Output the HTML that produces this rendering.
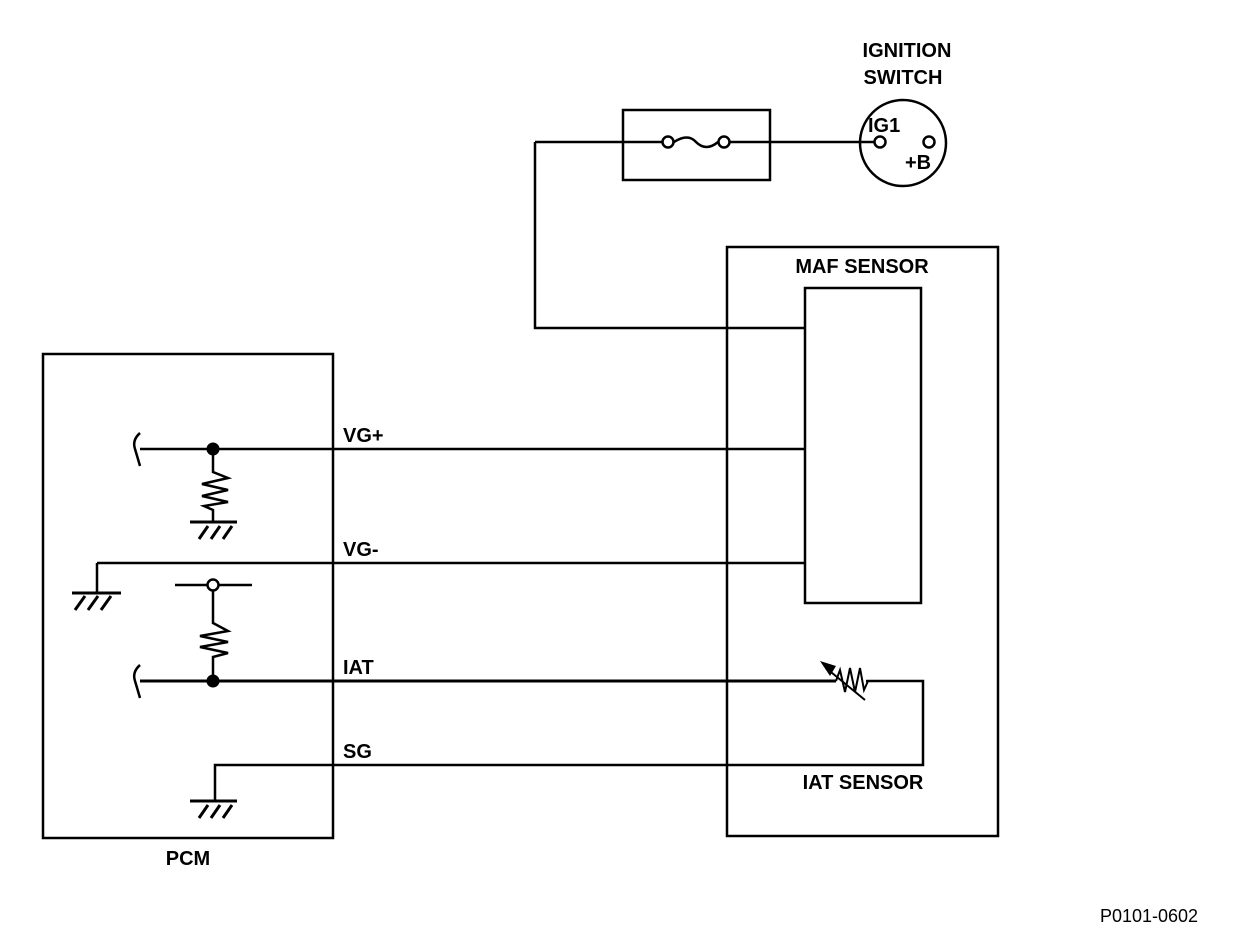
<!DOCTYPE html>
<html><head><meta charset="utf-8"><style>
html,body{margin:0;padding:0;background:#fff;}
svg{display:block;}
text{font-family:"Liberation Sans",Arial,sans-serif;font-weight:bold;font-size:20px;fill:#000;}
</style></head><body>
<svg width="1248" height="942" viewBox="0 0 1248 942" xmlns="http://www.w3.org/2000/svg">
<g fill="none" stroke="#000" stroke-width="2.5">
<rect x="623" y="110" width="147" height="70"/>
<path d="M535 142 H662 M674 142 Q688 133 696 142 Q706 152 718 142 M730 142 H874"/>
<circle cx="668" cy="142" r="5.5"/>
<circle cx="724" cy="142" r="5.5"/>
<circle cx="903" cy="143" r="43"/>
<circle cx="880" cy="142" r="5.5"/>
<circle cx="929" cy="142" r="5.5"/>
<path d="M535 142 V328 H805"/>
<rect x="727" y="247" width="271" height="589"/>
<rect x="805" y="288" width="116" height="315"/>
<rect x="43" y="354" width="290" height="484"/>
<path d="M140 449 H805"/>
<path d="M140 433 Q132 440 135 449 Q138 459 140 466"/>
<path d="M213 449 V472 L228 478 L202 484 L228 490 L202 496 L228 502 L204 506 L213 510 V522"/>
<path d="M97 563 H805 M97 563 V593"/>
<path d="M175 585 H208 M218 585 H252 M213 590 V623 L228 631 L200 636 L228 642 L200 647 L228 653 L213 657 V681"/>
<circle cx="213" cy="585" r="5.5"/>
<path d="M215 801 V765 H923 V681 H866"/>
<path d="M140 665 Q132 672 135 681 Q138 691 140 698"/>
<path d="M836 681 L840 670 L845 692 L850 668 L855 692 L860 668 L864 690 L868 681" stroke-width="2"/>
<path d="M826 668 L865 700" stroke-width="2"/>
</g>
<g fill="none" stroke="#000" stroke-width="3">
<path d="M190 522 H237 M199 539 L208 526 M211 539 L220 526 M223 539 L232 526"/>
<path d="M72 593 H121 M75 610 L85 596 M88 610 L98 596 M101 610 L111 596"/>
<path d="M190 801 H237 M199 818 L208 805 M211 818 L220 805 M223 818 L232 805"/>
<path d="M140 681 H836"/>
</g>
<path d="M820 661 L836 666 L830 676 Z" fill="#000"/>
<circle cx="213" cy="449" r="6.5" fill="#000"/>
<circle cx="213" cy="681" r="6.5" fill="#000"/>
<text x="907" y="57" text-anchor="middle">IGNITION</text>
<text x="903" y="84" text-anchor="middle">SWITCH</text>
<text x="868" y="132">IG1</text>
<text x="905" y="169">+B</text>
<text x="862" y="273" text-anchor="middle">MAF SENSOR</text>
<text x="343" y="442">VG+</text>
<text x="343" y="556">VG-</text>
<text x="343" y="674">IAT</text>
<text x="343" y="758">SG</text>
<text x="863" y="789" text-anchor="middle">IAT SENSOR</text>
<text x="188" y="865" text-anchor="middle">PCM</text>
<text x="1149" y="922" text-anchor="middle" style="font-weight:normal;font-size:18px">P0101-0602</text>
</svg>
</body></html>
